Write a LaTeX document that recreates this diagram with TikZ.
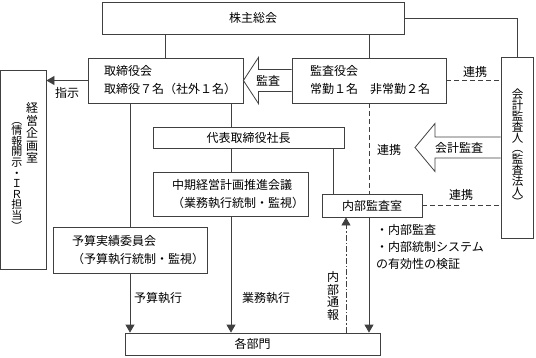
\documentclass[tikz,border=0pt]{standalone}
\usepackage{fontspec}
\setmainfont{Noto Sans CJK JP}
\usetikzlibrary{arrows.meta,calc}
\definecolor{linec}{RGB}{64,64,64}
\begin{document}
\begin{tikzpicture}[x=1pt,y=-1pt,
  box/.style={draw=linec, line width=0.8pt, fill=white, inner sep=0pt, font=\fontsize{12}{18}\selectfont},
  lbox/.style={box, align=left, inner ysep=0pt},
  cbox/.style={box, align=center},
  conn/.style={draw=linec, line width=0.8pt},
  arr/.style={conn, -{Triangle[length=8pt,width=9pt]}},
  dashconn/.style={conn, dash pattern=on 5pt off 3pt},
  dotdashconn/.style={conn, dash pattern=on 6pt off 2pt on 1.5pt off 2pt, -{Triangle[length=8pt,width=9pt]}},
  hollow/.style={draw=linec, line width=0.8pt, fill=white, line join=miter},
  lab/.style={inner sep=0pt, font=\fontsize{12}{12}\selectfont},
  vtext/.style={inner sep=0pt, align=center}
]
\useasboundingbox (0,0) rectangle (536,357);

% boxes
\node[cbox, minimum width=302pt, minimum height=32pt] (gm) at (253,18) {株主総会};
\node[lbox, text width=123pt, inner xsep=16pt, minimum height=45pt] (bod) at (165.5,80.5) {取締役会\\取締役７名（社外１名）};
\node[lbox, text width=118pt, inner xsep=18pt, minimum height=45pt] (kan) at (369,80.5) {監査役会\\常勤１名　非常勤２名};
\node[box, minimum width=45.5pt, minimum height=199pt] (plan) at (23.25,169.5) {};
\node[cbox, minimum width=191pt, minimum height=21pt] (ceo) at (248.5,137.5) {代表取締役社長};
\node[lbox, text width=117pt, inner xsep=19pt, minimum height=44pt] (mid) at (230.5,194) {中期経営計画推進会議\\（業務執行統制・監視）};
\node[lbox, text width=116pt, inner xsep=19pt, minimum height=46pt] (bud) at (130,250) {予算実績委員会\\（予算執行統制・監視）};
\node[cbox, minimum width=255pt, minimum height=22pt] (dept) at (252.5,344) {各部門};
\node[cbox, minimum width=100pt, minimum height=23pt] (ia) at (372,205.5) {内部監査室};
\node[box, minimum width=32pt, minimum height=181pt] (ext) at (517,147.5) {};

% vertical texts
\node[vtext, font=\fontsize{12}{12.5}\selectfont] (plantxt) at (32,133) {経\\営\\企\\画\\室};
\node[vtext, font=\fontsize{11}{10.6}\selectfont] (plantxt2) at (17,176) {︵\\情\\報\\開\\示\\・\\Ｉ\\Ｒ\\担\\当\\︶};
\node[vtext, font=\fontsize{11.5}{10.8}\selectfont] (exttxt) at (517.5,148) {会\\計\\監\\査\\人\\︵\\監\\査\\法\\人\\︶};

% coordinates for vertical connectors
\coordinate (xB) at (130,0);
\coordinate (xM) at (231,0);
\coordinate (xC) at (333,0);
\coordinate (xR) at (346,0);
\coordinate (xK) at (369,0);

% solid connectors
\draw[conn] (gm.south -| bod.north) -- (bod.north);
\draw[conn] (gm.south -| kan.north) -- (kan.north);
\draw[conn] (gm.east) -| (ext.north);
\draw[arr] (bod.west) -- (bod.west -| plan.east);
\draw[conn] (bod.south -| xM) -- (ceo.north -| xM);
\draw[conn] (ceo.south -| xM) -- (mid.north -| xM);
\draw[arr] (mid.south -| xM) -- (dept.north -| xM);
\draw[conn] (bod.south -| xB) -- (bud.north -| xB);
\draw[arr] (bud.south -| xB) -- (dept.north -| xB);
\draw[conn] (ceo.south -| xC) -- (ia.north -| xC);
\draw[arr] (ia.south -| xK) -- (dept.north -| xK);
\draw[dotdashconn] (dept.north -| xR) -- (ia.south -| xR);

% dashed connectors
\draw[dashconn] (kan.south -| xK) -- (ia.north -| xK);
\draw[dashconn] (kan.east) -- (kan.east -| ext.west);
\draw[dashconn] (ia.east) -- (ia.east -| ext.west);

% hollow arrows
\draw[hollow] ($(kan.west)+(0,-11)$) -- ($(bod.east)+(15,-11)$) -- ($(bod.east)+(15,-23)$)
  -- (bod.east) -- ($(bod.east)+(15,23)$) -- ($(bod.east)+(15,11)$) -- ($(kan.west)+(0,11)$);
\node[lab] (kansa) at (268,80.5) {監査};
\coordinate (kaitip) at (415,147.5);
\draw[hollow] ($(ext.west)+(0,-10.5)$) -- ($(kaitip)+(20,-10.5)$) -- ($(kaitip)+(20,-24)$)
  -- (kaitip) -- ($(kaitip)+(20,24)$) -- ($(kaitip)+(20,10.5)$) -- ($(ext.west)+(0,10.5)$);
\node[lab] (kaikei) at (459,147.5) {会計監査};

% labels
\node[lab] (shiji) at (67,93) {指示};
\node[lab] (renkei1) at (475,72) {連携};
\node[lab] (renkei2) at (389,150) {連携};
\node[lab] (renkei3) at (461,195) {連携};
\node[lab] (yosan) at (158,298) {予算執行};
\node[lab] (gyomu) at (266,298) {業務執行};
\node[vtext, font=\fontsize{12}{12.5}\selectfont] (tsuho) at (333,296) {内\\部\\通\\報};
\node[lab, anchor=north west, align=left, font=\fontsize{12}{17}\selectfont] (notes) at (376,224) {・内部監査\\・内部統制システム\\の有効性の検証};
\end{tikzpicture}
\end{document}
